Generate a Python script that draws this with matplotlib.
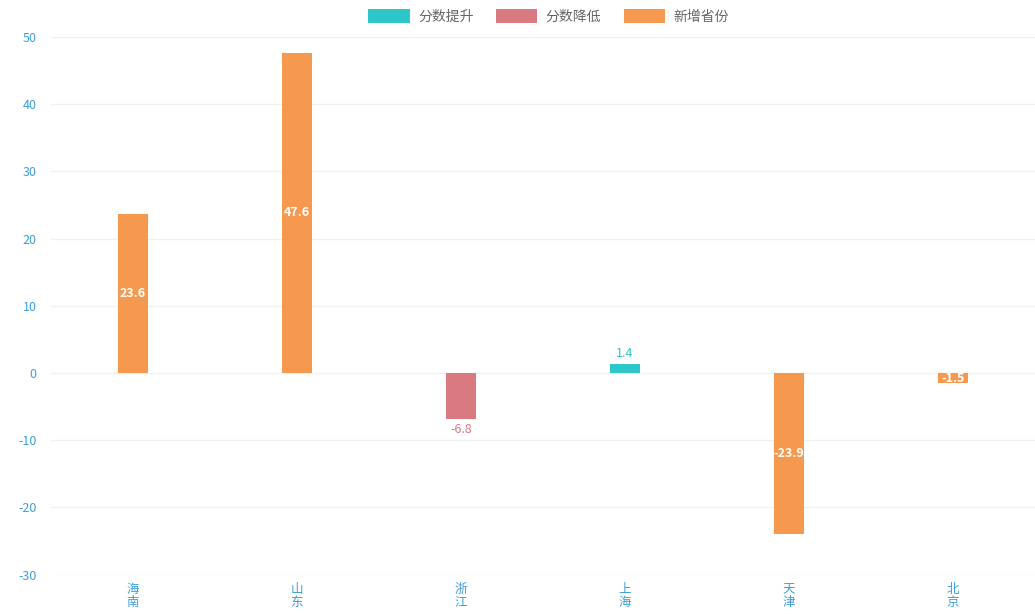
import numpy as np
import matplotlib.pyplot as plt
from matplotlib.patches import Patch

plt.rcParams['font.family'] = ['Noto Sans CJK SC', 'DejaVu Sans']
plt.rcParams['axes.unicode_minus'] = False

provinces = ['海南', '山东', '浙江', '上海', '天津', '北京']
values = [23.6, 47.6, -6.8, 1.4, -23.9, -1.5]
kinds = ['新增省份', '新增省份', '分数降低', '分数提升', '新增省份', '新增省份']
series = ['分数提升', '分数降低', '新增省份']
colors = {'分数提升': '#2ec7c9', '分数降低': '#d87a80', '新增省份': '#f5994e'}

fig = plt.figure(figsize=(10.35, 6.14), dpi=100)
ax = fig.add_axes([0.049, 0.064, 0.951, 0.876])

x = np.arange(len(provinces))
bars = ax.bar(x, values, width=0.18, color=[colors[k] for k in kinds], zorder=3)

for xi, v, k in zip(x, values, kinds):
    if k == '新增省份':
        ax.text(xi, v / 2, f'{v:.1f}', ha='center', va='center', color='white',
                fontsize=9, fontweight='bold', zorder=4)
    elif v >= 0:
        ax.text(xi, v + 0.6, f'{v:.1f}', ha='center', va='bottom', color=colors[k],
                fontsize=9, zorder=4)
    else:
        ax.text(xi, v - 0.6, f'{v:.1f}', ha='center', va='top', color=colors[k],
                fontsize=9, zorder=4)

ax.set_xlim(-0.5, len(provinces) - 0.5)
ax.set_ylim(-30, 50)
ax.set_yticks(np.arange(-30, 51, 10))
ax.set_xticks(x)
ax.set_xticklabels(['\n'.join(p) for p in provinces], linespacing=0.95)
ax.tick_params(axis='both', colors='#3a9fd8', labelsize=9, length=0)
ax.tick_params(axis='y', pad=10)
ax.tick_params(axis='x', pad=6)
ax.grid(axis='y', color='#f0f0f0', linewidth=1, zorder=0)
for s in ax.spines.values():
    s.set_visible(False)

handles = [Patch(facecolor=colors[s], edgecolor='none', label=s) for s in series]
fig.legend(handles=handles, loc='upper center', bbox_to_anchor=(0.53, 1.005), ncol=3,
           frameon=False, fontsize=10, handlelength=3.0, handleheight=1.1,
           columnspacing=1.6, handletextpad=0.6, labelcolor='#666666')

fig.savefig('out.png', dpi=100)
